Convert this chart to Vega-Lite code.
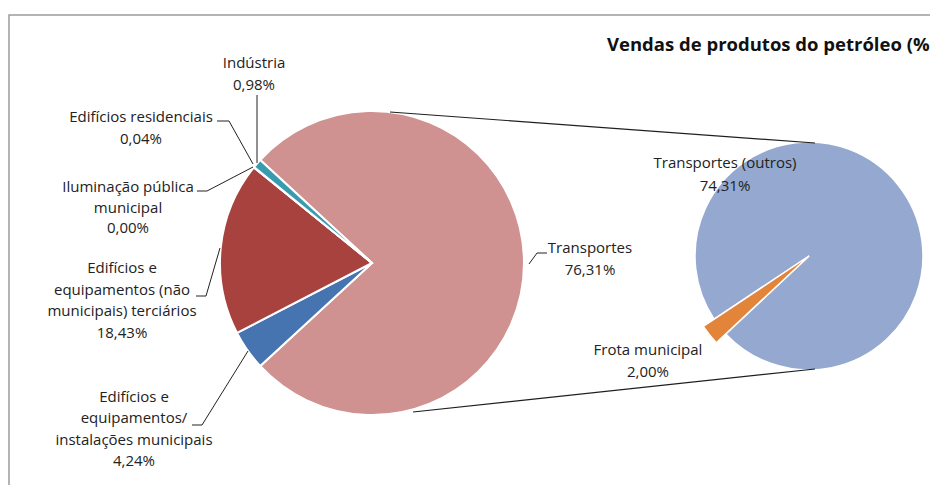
{
  "$schema": "https://vega.github.io/schema/vega-lite/v6.json",
  "width": 930,
  "height": 485,
  "padding": 0,
  "autosize": {"type": "none"},
  "background": "white",
  "config": {"view": {"stroke": null}, "font": "Open Sans"},
  "datasets": {
    "principal": [
      {"categoria": "Transportes", "valor": 76.31, "ordem": 1, "rotulo": "Transportes\n76,31%"},
      {"categoria": "Edifícios e equipamentos/instalações municipais", "valor": 4.24, "ordem": 2, "rotulo": "Edifícios e\nequipamentos/\ninstalações municipais\n4,24%"},
      {"categoria": "Edifícios e equipamentos (não municipais) terciários", "valor": 18.43, "ordem": 3, "rotulo": "Edifícios e\nequipamentos (não\nmunicipais) terciários\n18,43%"},
      {"categoria": "Iluminação pública municipal", "valor": 0.0, "ordem": 4, "rotulo": "Iluminação pública\nmunicipal\n0,00%"},
      {"categoria": "Edifícios residenciais", "valor": 0.04, "ordem": 5, "rotulo": "Edifícios residenciais\n0,04%"},
      {"categoria": "Indústria", "valor": 0.98, "ordem": 6, "rotulo": "Indústria\n0,98%"}
    ],
    "transportes": [
      {"categoria": "Frota municipal", "valor": 2.0, "ordem": 1, "rotulo": "Frota municipal\n2,00%"},
      {"categoria": "Transportes (outros)", "valor": 74.31, "ordem": 2, "rotulo": "Transportes (outros)\n74,31%"}
    ]
  },
  "layer": [
    {
      "data": {"values": [{}]},
      "mark": {"type": "rect", "fillOpacity": 0, "stroke": "#9c9c9c", "strokeWidth": 1.5},
      "encoding": {
        "x": {"datum": 9, "type": "quantitative", "scale": {"domain": [0, 930], "nice": false, "zero": false}, "axis": null},
        "y": {"datum": 15, "type": "quantitative", "scale": {"domain": [0, 485], "nice": false, "zero": false, "reverse": true}, "axis": null},
        "x2": {"datum": 1000},
        "y2": {"datum": 600}
      }
    },
    {
      "data": {"name": "principal"},
      "mark": {"type": "arc", "outerRadius": 152, "stroke": "white", "strokeWidth": 2},
      "encoding": {
        "theta": {"field": "valor", "type": "quantitative", "stack": true, "scale": {"range": [-0.82655, 5.45664]}},
        "order": {"field": "ordem", "type": "quantitative"},
        "color": {"field": "categoria", "type": "nominal", "legend": null,
          "scale": {
            "domain": ["Transportes", "Edifícios e equipamentos/instalações municipais", "Edifícios e equipamentos (não municipais) terciários", "Iluminação pública municipal", "Edifícios residenciais", "Indústria", "Transportes (outros)", "Frota municipal"],
            "range": ["#D09291", "#4674B0", "#A8423F", "#8064A2", "#9BBB59", "#3A9BB0", "#94A8D0", "#E3843B"]
          }},
        "x": {"datum": 372, "type": "quantitative", "scale": {"domain": [0, 930], "nice": false, "zero": false}, "axis": null},
        "y": {"datum": 263, "type": "quantitative", "scale": {"domain": [0, 485], "nice": false, "zero": false, "reverse": true}, "axis": null}
      }
    },
    {
      "data": {"name": "transportes"},
      "mark": {"type": "arc", "outerRadius": 114, "stroke": "white", "strokeWidth": 1.5},
      "encoding": {
        "theta": {"field": "valor", "type": "quantitative", "stack": true, "scale": {"range": [3.960, 10.243]}},
        "order": {"field": "ordem", "type": "quantitative"},
        "color": {"field": "categoria", "type": "nominal", "legend": null},
        "x": {"datum": 809, "type": "quantitative", "axis": null},
        "y": {"datum": 256, "type": "quantitative", "axis": null}
      }
    },
    {
      "data": {"name": "transportes"},
      "mark": {"type": "arc", "outerRadius": 127, "stroke": "white", "strokeWidth": 1.5},
      "encoding": {
        "theta": {"field": "valor", "type": "quantitative", "stack": true, "scale": {"range": [3.960, 10.243]}},
        "order": {"field": "ordem", "type": "quantitative"},
        "color": {"field": "categoria", "type": "nominal", "legend": null},
        "opacity": {"condition": {"test": "datum.categoria === 'Frota municipal'", "value": 1}, "value": 0},
        "x": {"datum": 809, "type": "quantitative", "axis": null},
        "y": {"datum": 256, "type": "quantitative", "axis": null}
      }
    },
    {
      "data": {"values": [{}]},
      "mark": {"type": "rule", "color": "#1f1f1f", "strokeWidth": 1.2},
      "encoding": {"x": {"datum": 390, "type": "quantitative", "axis": null}, "y": {"datum": 112, "type": "quantitative", "axis": null}, "x2": {"datum": 815}, "y2": {"datum": 143}}
    },
    {
      "data": {"values": [{}]},
      "mark": {"type": "rule", "color": "#1f1f1f", "strokeWidth": 1.2},
      "encoding": {"x": {"datum": 413, "type": "quantitative", "axis": null}, "y": {"datum": 412, "type": "quantitative", "axis": null}, "x2": {"datum": 815}, "y2": {"datum": 369}}
    },
    {
      "data": {"values": [{}]},
      "mark": {"type": "rule", "color": "#222222", "strokeWidth": 1},
      "encoding": {"x": {"datum": 257, "type": "quantitative", "axis": null}, "y": {"datum": 95, "type": "quantitative", "axis": null}, "x2": {"datum": 257}, "y2": {"datum": 163}}
    },
    {
      "data": {"values": [{}]},
      "mark": {"type": "rule", "color": "#222222", "strokeWidth": 1},
      "encoding": {"x": {"datum": 217, "type": "quantitative", "axis": null}, "y": {"datum": 121, "type": "quantitative", "axis": null}, "x2": {"datum": 229}, "y2": {"datum": 121}}
    },
    {
      "data": {"values": [{}]},
      "mark": {"type": "rule", "color": "#222222", "strokeWidth": 1},
      "encoding": {"x": {"datum": 229, "type": "quantitative", "axis": null}, "y": {"datum": 121, "type": "quantitative", "axis": null}, "x2": {"datum": 253}, "y2": {"datum": 164}}
    },
    {
      "data": {"values": [{}]},
      "mark": {"type": "rule", "color": "#222222", "strokeWidth": 1},
      "encoding": {"x": {"datum": 197, "type": "quantitative", "axis": null}, "y": {"datum": 191, "type": "quantitative", "axis": null}, "x2": {"datum": 207}, "y2": {"datum": 191}}
    },
    {
      "data": {"values": [{}]},
      "mark": {"type": "rule", "color": "#222222", "strokeWidth": 1},
      "encoding": {"x": {"datum": 207, "type": "quantitative", "axis": null}, "y": {"datum": 191, "type": "quantitative", "axis": null}, "x2": {"datum": 253}, "y2": {"datum": 167}}
    },
    {
      "data": {"values": [{}]},
      "mark": {"type": "rule", "color": "#222222", "strokeWidth": 1},
      "encoding": {"x": {"datum": 196, "type": "quantitative", "axis": null}, "y": {"datum": 296, "type": "quantitative", "axis": null}, "x2": {"datum": 206}, "y2": {"datum": 296}}
    },
    {
      "data": {"values": [{}]},
      "mark": {"type": "rule", "color": "#222222", "strokeWidth": 1},
      "encoding": {"x": {"datum": 206, "type": "quantitative", "axis": null}, "y": {"datum": 296, "type": "quantitative", "axis": null}, "x2": {"datum": 220}, "y2": {"datum": 248}}
    },
    {
      "data": {"values": [{}]},
      "mark": {"type": "rule", "color": "#222222", "strokeWidth": 1},
      "encoding": {"x": {"datum": 192, "type": "quantitative", "axis": null}, "y": {"datum": 425, "type": "quantitative", "axis": null}, "x2": {"datum": 202}, "y2": {"datum": 425}}
    },
    {
      "data": {"values": [{}]},
      "mark": {"type": "rule", "color": "#222222", "strokeWidth": 1},
      "encoding": {"x": {"datum": 202, "type": "quantitative", "axis": null}, "y": {"datum": 425, "type": "quantitative", "axis": null}, "x2": {"datum": 248}, "y2": {"datum": 351}}
    },
    {
      "data": {"values": [{}]},
      "mark": {"type": "rule", "color": "#222222", "strokeWidth": 1},
      "encoding": {"x": {"datum": 547, "type": "quantitative", "axis": null}, "y": {"datum": 253, "type": "quantitative", "axis": null}, "x2": {"datum": 537}, "y2": {"datum": 253}}
    },
    {
      "data": {"values": [{}]},
      "mark": {"type": "rule", "color": "#222222", "strokeWidth": 1},
      "encoding": {"x": {"datum": 537, "type": "quantitative", "axis": null}, "y": {"datum": 253, "type": "quantitative", "axis": null}, "x2": {"datum": 529}, "y2": {"datum": 264}}
    },
    {
      "data": {"name": "principal"},
      "transform": [{"filter": "datum.categoria === 'Indústria'"}],
      "mark": {"type": "text", "lineBreak": "\n", "lineHeight": 21.5, "fontSize": 15, "font": "Open Sans", "color": "#222222", "align": "center", "baseline": "middle"},
      "encoding": {"text": {"field": "rotulo"}, "x": {"datum": 254, "type": "quantitative", "axis": null}, "y": {"datum": 63, "type": "quantitative", "axis": null}}
    },
    {
      "data": {"name": "principal"},
      "transform": [{"filter": "datum.categoria === 'Edifícios residenciais'"}],
      "mark": {"type": "text", "lineBreak": "\n", "lineHeight": 21.5, "fontSize": 15, "font": "Open Sans", "color": "#222222", "align": "center", "baseline": "middle"},
      "encoding": {"text": {"field": "rotulo"}, "x": {"datum": 141, "type": "quantitative", "axis": null}, "y": {"datum": 117, "type": "quantitative", "axis": null}}
    },
    {
      "data": {"name": "principal"},
      "transform": [{"filter": "datum.categoria === 'Iluminação pública municipal'"}],
      "mark": {"type": "text", "lineBreak": "\n", "lineHeight": 20.5, "fontSize": 15, "font": "Open Sans", "color": "#222222", "align": "center", "baseline": "middle"},
      "encoding": {"text": {"field": "rotulo"}, "x": {"datum": 128, "type": "quantitative", "axis": null}, "y": {"datum": 187, "type": "quantitative", "axis": null}}
    },
    {
      "data": {"name": "principal"},
      "transform": [{"filter": "datum.categoria === 'Edifícios e equipamentos (não municipais) terciários'"}],
      "mark": {"type": "text", "lineBreak": "\n", "lineHeight": 21.7, "fontSize": 15, "font": "Open Sans", "color": "#222222", "align": "center", "baseline": "middle"},
      "encoding": {"text": {"field": "rotulo"}, "x": {"datum": 122, "type": "quantitative", "axis": null}, "y": {"datum": 268, "type": "quantitative", "axis": null}}
    },
    {
      "data": {"name": "principal"},
      "transform": [{"filter": "datum.categoria === 'Edifícios e equipamentos/instalações municipais'"}],
      "mark": {"type": "text", "lineBreak": "\n", "lineHeight": 21.3, "fontSize": 15, "font": "Open Sans", "color": "#222222", "align": "center", "baseline": "middle"},
      "encoding": {"text": {"field": "rotulo"}, "x": {"datum": 134, "type": "quantitative", "axis": null}, "y": {"datum": 397, "type": "quantitative", "axis": null}}
    },
    {
      "data": {"name": "principal"},
      "transform": [{"filter": "datum.categoria === 'Transportes'"}],
      "mark": {"type": "text", "lineBreak": "\n", "lineHeight": 21.5, "fontSize": 15, "font": "Open Sans", "color": "#222222", "align": "center", "baseline": "middle"},
      "encoding": {"text": {"field": "rotulo"}, "x": {"datum": 590, "type": "quantitative", "axis": null}, "y": {"datum": 248, "type": "quantitative", "axis": null}}
    },
    {
      "data": {"name": "transportes"},
      "transform": [{"filter": "datum.categoria === 'Transportes (outros)'"}],
      "mark": {"type": "text", "lineBreak": "\n", "lineHeight": 22.5, "fontSize": 15, "font": "Open Sans", "color": "#222222", "align": "center", "baseline": "middle"},
      "encoding": {"text": {"field": "rotulo"}, "x": {"datum": 725, "type": "quantitative", "axis": null}, "y": {"datum": 163, "type": "quantitative", "axis": null}}
    },
    {
      "data": {"name": "transportes"},
      "transform": [{"filter": "datum.categoria === 'Frota municipal'"}],
      "mark": {"type": "text", "lineBreak": "\n", "lineHeight": 22, "fontSize": 15, "font": "Open Sans", "color": "#222222", "align": "center", "baseline": "middle"},
      "encoding": {"text": {"field": "rotulo"}, "x": {"datum": 648, "type": "quantitative", "axis": null}, "y": {"datum": 350, "type": "quantitative", "axis": null}}
    },
    {
      "data": {"values": [{}]},
      "mark": {"type": "text", "fontSize": 18.5, "fontWeight": "bold", "font": "Open Sans", "color": "#111111", "align": "left", "baseline": "middle"},
      "encoding": {"text": {"value": "Vendas de produtos do petróleo (%)"}, "x": {"datum": 607, "type": "quantitative", "axis": null}, "y": {"datum": 45, "type": "quantitative", "axis": null}}
    }
  ],
  "resolve": {"scale": {"theta": "independent"}}
}
